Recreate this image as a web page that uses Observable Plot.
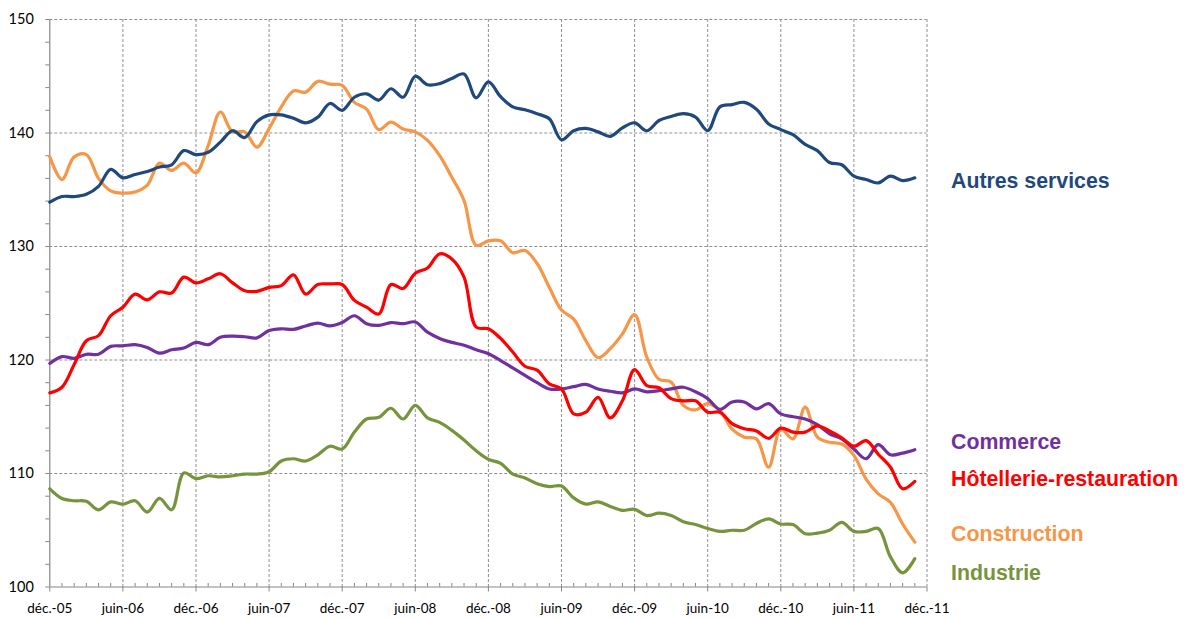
<!DOCTYPE html>
<html>
<head>
<meta charset="utf-8">
<script src="https://cdn.jsdelivr.net/npm/d3@7"></script>
<script src="https://cdn.jsdelivr.net/npm/@observablehq/plot@0.6"></script>
<style>
  html, body { margin: 0; padding: 0; background: #fff; }
</style>
</head>
<body>
<div id="chart"></div>
<script>
// Tick labels (every 6 months, from déc.-05 to déc.-11)
const tickLabels = ["déc.-05","juin-06","déc.-06","juin-07","déc.-07","juin-08","déc.-08","juin-09","déc.-09","juin-10","déc.-10","juin-11","déc.-11"];

// Series names and colours
const seriesNames = ["Autres services", "Commerce", "Hôtellerie-restauration", "Construction", "Industrie"];
const seriesColors = ["#1F497D", "#7030A0", "#FF0000", "#F79646", "#77933C"];

// Monthly values, déc.-05 .. nov.-11 (72 months)
const autresServices = [133.9,134.4,134.4,134.6,135.3,136.8,136.05,136.35,136.6,137.0,
  137.2,138.45,138.1,138.3,139.2,140.2,139.6,141.0,141.6,141.6,
  141.3,140.9,141.4,142.6,142.0,143.15,143.45,142.9,143.9,143.15,
  145.0,144.25,144.35,144.8,145.2,143.1,144.5,143.2,142.3,142.05,
  141.7,141.25,139.4,140.2,140.4,140.1,139.7,140.45,140.9,140.2,
  141.1,141.45,141.7,141.4,140.2,142.3,142.5,142.7,142.1,140.8,
  140.3,139.85,139.0,138.45,137.4,137.2,136.2,135.9,135.6,136.2,135.8,136.05];

const commerce = [119.7,120.3,120.15,120.5,120.5,121.2,121.25,121.35,121.1,120.6,
  120.9,121.05,121.55,121.35,122.0,122.1,122.05,121.95,122.6,122.75,
  122.7,123.0,123.25,123.0,123.3,123.9,123.2,123.05,123.3,123.2,
  123.35,122.45,121.9,121.55,121.3,120.9,120.55,119.95,119.3,118.65,
  118.0,117.45,117.45,117.65,117.85,117.45,117.25,117.1,117.45,117.2,
  117.3,117.45,117.6,117.2,116.6,115.65,116.3,116.3,115.7,116.15,
  115.25,115.0,114.8,114.3,113.5,113.05,112.15,111.3,112.55,111.65,111.8,112.1];

const hotellerie = [117.1,117.6,119.6,121.7,122.15,123.9,124.65,125.8,125.3,126.0,
  125.9,127.3,126.8,127.15,127.6,126.8,126.1,126.05,126.4,126.55,
  127.5,125.8,126.65,126.7,126.65,125.25,124.65,124.05,126.65,126.3,
  127.65,128.1,129.35,128.9,127.3,122.9,122.75,121.9,120.7,119.45,
  119.1,117.9,117.45,115.25,115.4,116.7,114.9,116.4,119.15,117.75,
  117.55,116.6,116.4,116.4,115.4,115.4,114.4,113.95,113.75,113.1,
  114.0,113.65,113.65,114.2,113.75,113.15,112.4,112.9,111.7,110.55,108.65,109.3];

const construction = [137.9,135.9,137.9,138.1,136.0,134.9,134.7,134.8,135.4,137.35,
  136.7,137.35,136.5,138.9,141.85,140.1,140.1,138.75,140.4,142.3,
  143.7,143.6,144.55,144.3,144.2,142.7,142.1,140.3,140.95,140.35,
  140.1,139.35,138.0,136.1,134.05,130.1,130.5,130.5,129.45,129.65,
  128.5,126.4,124.4,123.6,121.7,120.2,121.0,122.3,124.0,120.25,
  118.3,118.05,116.0,115.6,116.15,115.55,113.9,113.2,113.05,110.55,
  113.9,113.05,115.85,113.2,112.75,112.6,111.6,109.5,108.2,107.45,105.55,103.95];

const industrie = [108.65,107.8,107.6,107.55,106.8,107.5,107.3,107.6,106.6,107.8,
  106.8,110.05,109.55,109.8,109.7,109.8,109.95,109.95,110.15,111.1,
  111.3,111.1,111.65,112.4,112.15,113.65,114.8,114.95,115.75,114.8,
  116.0,114.9,114.5,113.8,112.95,112.0,111.25,110.9,109.95,109.6,
  109.1,108.85,108.9,107.85,107.3,107.5,107.1,106.75,106.85,106.3,
  106.5,106.3,105.75,105.5,105.15,104.9,105.0,105.0,105.6,106.0,
  105.55,105.5,104.7,104.75,105.0,105.7,104.9,104.9,105.15,102.65,101.25,102.5];

// Vertical position (in index units) of each end label
const labelValues = [135.73, 112.76, 109.47, 104.63, 101.19];

const seriesValues = [autresServices, commerce, hotellerie, construction, industrie];
const drawOrder = [4, 3, 1, 2, 0];

const rows = [];
for (const k of drawOrder) {
  seriesValues[k].forEach((v, i) => rows.push({i, v, name: seriesNames[k]}));
}

const majorX = d3.range(0, 73, 6);
const minorX = d3.range(1, 72).filter(i => i % 6 !== 0);
const majorY = d3.range(100, 151, 10);
const minorY = d3.range(102, 150, 2).filter(v => v % 10 !== 0);
const gridColor = "#8f8f8f";
const axisColor = "#868686";

const chart = Plot.plot({
  width: 1195,
  height: 618,
  marginLeft: 49.3,
  marginRight: 268.5,
  marginTop: 19,
  marginBottom: 31.5,
  style: {fontFamily: "Lato, 'Open Sans', sans-serif", background: "#fff", overflow: "visible"},
  x: {domain: [0, 72]},
  y: {domain: [100, 150]},
  color: {domain: seriesNames, range: seriesColors},
  marks: [
    Plot.ruleY(majorY.filter(v => v > 100), {stroke: gridColor, strokeDasharray: "3,2", strokeWidth: 1}),
    Plot.ruleX(majorX.filter(v => v > 0), {stroke: gridColor, strokeDasharray: "3,2", strokeWidth: 1}),
    Plot.ruleX([0], {y1: 100, y2: 150, stroke: axisColor, strokeWidth: 1.2}),
    Plot.ruleY([100], {x1: 0, x2: 72, stroke: axisColor, strokeWidth: 1.2}),
    Plot.ruleX(minorX, {x: d => d, y1: 100, y2: 100, insetTop: -3.5, stroke: axisColor, strokeWidth: 1}),
    Plot.axisY({ticks: minorY, tickSize: 4, tickFormat: () => "", stroke: axisColor, label: null}),
    Plot.axisY({ticks: majorY, tickSize: 4, tickPadding: 12, tickFormat: d => String(d), fontSize: 14.5, stroke: axisColor, fill: "#000", label: null}),
    Plot.axisX({ticks: majorX, tickSize: 5, tickPadding: 11, tickFormat: i => tickLabels[i / 6], fontSize: 13.5, stroke: axisColor, fill: "#000", label: null}),
    Plot.line(rows, {x: "i", y: "v", z: "name", stroke: "name", curve: "catmull-rom", strokeWidth: 3.2, strokeLinejoin: "round", strokeLinecap: "round"}),
    Plot.text(d3.range(seriesNames.length), {
      x: () => 72, y: k => labelValues[k], text: k => seriesNames[k], fill: k => seriesNames[k],
      dx: 24, textAnchor: "start", fontSize: 21.3, fontWeight: "bold",
      fontFamily: "'Liberation Sans', Arial, sans-serif"
    })
  ]
});
document.getElementById("chart").appendChild(chart);
</script>
</body>
</html>
